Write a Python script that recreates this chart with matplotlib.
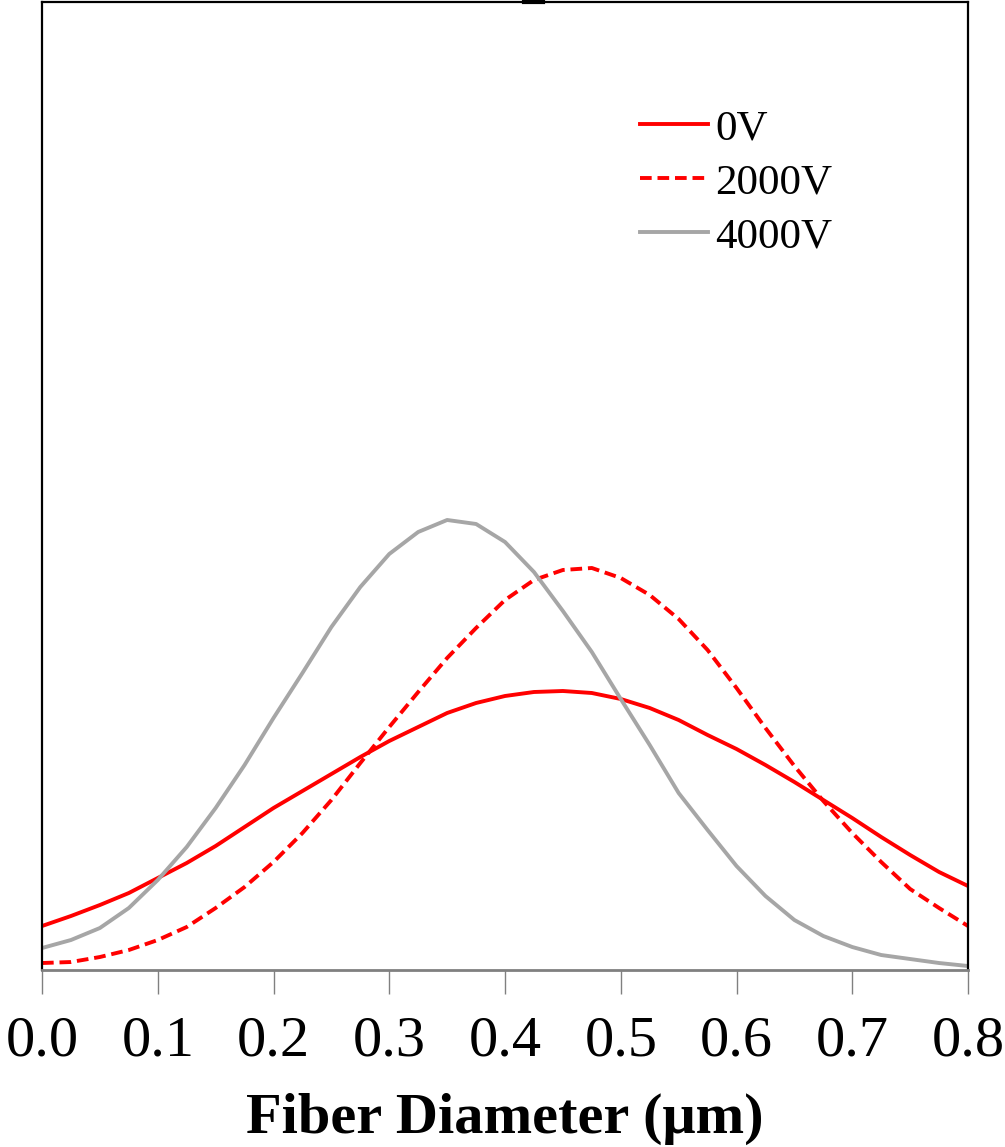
import numpy as np
import matplotlib.pyplot as plt

plt.rcParams["font.family"] = ["Liberation Serif", "DejaVu Serif"]

# fiber diameter (um), read every 0.025 along the axis
diameter = [0.0, 0.025, 0.05, 0.075, 0.1, 0.125, 0.15, 0.175, 0.2, 0.225, 0.25,
            0.275, 0.3, 0.325, 0.35, 0.375, 0.4, 0.425, 0.45, 0.475, 0.5, 0.525,
            0.55, 0.575, 0.6, 0.625, 0.65, 0.675, 0.7, 0.725, 0.75, 0.775, 0.8]

# relative frequency (arbitrary units, no y scale shown)
freq_0v = [44, 54, 65, 77, 92, 107, 124, 143, 162, 179, 196,
           213, 229, 243, 257, 267, 274, 278, 279, 277, 271, 262,
           250, 235, 221, 205, 188, 170, 152, 133, 115, 98, 84]
freq_2000v = [7, 8, 13, 20, 30, 43, 62, 83, 108, 137, 170,
              207, 243, 278, 312, 342, 370, 390, 400, 402, 392, 375,
              351, 320, 282, 242, 204, 169, 137, 108, 81, 62, 44]
freq_4000v = [22, 30, 42, 62, 90, 123, 162, 205, 252, 297, 343,
              383, 416, 438, 450, 446, 428, 398, 359, 318, 271, 225,
              177, 140, 104, 74, 50, 34, 23, 15, 11, 7, 4]

labels = ["0V", "2000V", "4000V"]
xticks = [0.0, 0.1, 0.2, 0.3, 0.4, 0.5, 0.6, 0.7, 0.8]

fig = plt.figure(figsize=(10.05, 11.47), dpi=100)
ax = fig.add_axes([0.0418, 0.1543, 0.9214, 0.8440])

ax.plot(diameter, freq_0v, color="#FF0000", lw=2.8, solid_joinstyle="round",
        label=labels[0])
ax.plot(diameter, freq_2000v, color="#FF0000", lw=2.8, dashes=(3.0, 1.5),
        label=labels[1])
ax.plot(diameter, freq_4000v, color="#A6A6A6", lw=2.8, solid_joinstyle="round",
        label=labels[2])

ax.set_xlim(0, 0.8)
ax.set_ylim(0, 968)
ax.set_xticks(xticks)
ax.set_xticklabels([f"{t:.1f}" for t in xticks], fontsize=42)
ax.set_yticks([])
ax.tick_params(axis="x", direction="out", length=17, width=1, color="#808080", pad=16)

for s in ["left", "right", "top"]:
    ax.spines[s].set_color("black")
    ax.spines[s].set_linewidth(1.6)
ax.spines["bottom"].set_color("#808080")
ax.spines["bottom"].set_linewidth(2)

ax.set_xlabel("Fiber Diameter (μm)", fontsize=42, fontweight="bold", labelpad=18)

# small mark on top edge
ax.plot([0.52, 0.541], [1, 1], transform=ax.transAxes, color="black", lw=3, clip_on=False)

ax.legend(loc="upper left", bbox_to_anchor=(0.6458, 0.889), frameon=False, fontsize=31,
          handlelength=1.58, handletextpad=0.17, labelspacing=0.34,
          borderpad=0, borderaxespad=0)

fig.savefig("out.png", dpi=100)
